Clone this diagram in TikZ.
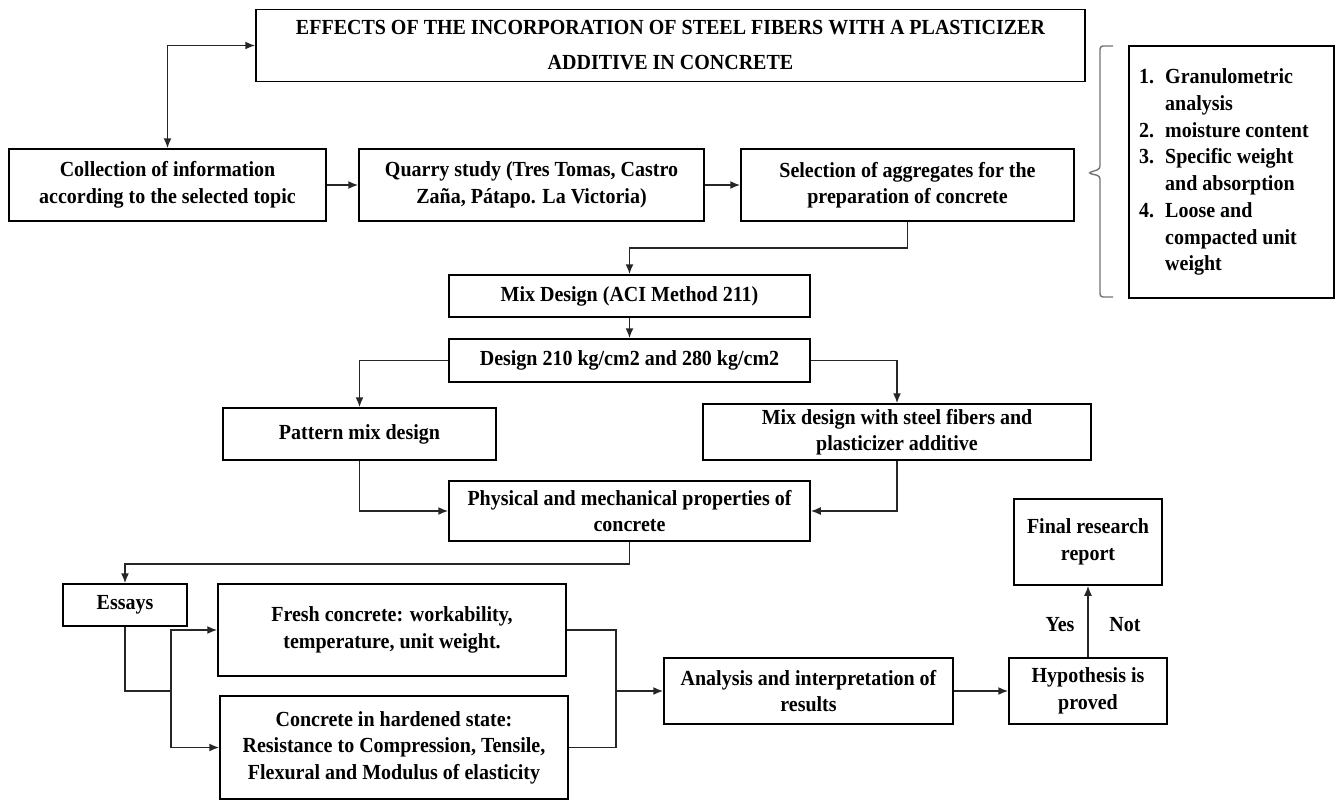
\documentclass[tikz,border=0pt]{standalone}
\usepackage{fontspec}
\setmainfont{Liberation Serif}[FakeStretch=0.93]
\usetikzlibrary{arrows.meta}
\begin{document}
\begin{tikzpicture}[x=1pt,y=-1pt,
  box/.style={draw=black, line width=1.5pt, inner sep=0pt, align=center,
    font=\fontsize{21.5}{26.5}\selectfont\bfseries},
  conn/.style={line width=1.6pt, draw=black!85},
  tip/.tip={Latex[length=10pt,width=8pt]},
  arr/.style={conn, -tip},
  darr/.style={conn, tip-tip},
  lbl/.style={font=\fontsize{21.5}{24}\selectfont\bfseries, inner sep=0pt}]
\useasboundingbox (0,0) rectangle (1337,800);
\fill[white] (0,0) rectangle (1337,800);
% boxes
\node[box, minimum width=829pt, minimum height=72pt, font=\fontsize{21.5}{35}\selectfont\bfseries] (title) at (670.5,45.5)
  {EFFECTS OF THE INCORPORATION OF STEEL FIBERS WITH A PLASTICIZER\\ADDITIVE IN CONCRETE};
\node[box, minimum width=317pt, minimum height=72pt] (coll) at (167.5,185)
  {Collection of information\\according to the selected topic};
\node[box, minimum width=345pt, minimum height=72pt] (quarry) at (531.5,185)
  {Quarry study (Tres Tomas, Castro\\Zaña, Pátapo. La Victoria)};
\node[box, minimum width=333pt, minimum height=72pt] (sel) at (907.5,185)
  {Selection of aggregates for the\\preparation of concrete};
\node[box, minimum width=205pt, minimum height=252pt] (list) at (1231.5,172) {};
\node[anchor=west, inner sep=0pt, font=\fontsize{21.5}{26.7}\selectfont\bfseries] (listtxt) at (1139,172)
  {\begin{tabular}{@{}p{26pt}@{}l@{}}
   1. & Granulometric\\
      & analysis\\
   2. & moisture content\\
   3. & Specific weight\\
      & and absorption\\
   4. & Loose and\\
      & compacted unit\\
      & weight
   \end{tabular}};
\node[box, minimum width=361pt, minimum height=42pt] (mix) at (629.5,296)
  {Mix Design (ACI Method 211)};
\node[box, minimum width=361pt, minimum height=43pt] (d210) at (629.5,360.5)
  {Design 210 kg/cm2 and 280 kg/cm2};
\node[box, minimum width=273pt, minimum height=52pt] (pattern) at (359.5,434)
  {Pattern mix design};
\node[box, minimum width=388pt, minimum height=56pt] (steel) at (897,432)
  {Mix design with steel fibers and\\plasticizer additive};
\node[box, minimum width=361pt, minimum height=60pt] (phys) at (629.5,511)
  {Physical and mechanical properties of\\concrete};
\node[box, minimum width=124pt, minimum height=42pt] (essays) at (125,605)
  {Essays};
\node[box, minimum width=348pt, minimum height=92pt] (fresh) at (392,630)
  {Fresh concrete: workability,\\temperature, unit weight.};
\node[box, minimum width=348pt, minimum height=103pt] (hard) at (394,747.5)
  {Concrete in hardened state:\\Resistance to Compression, Tensile,\\Flexural and Modulus of elasticity};
\node[box, minimum width=289pt, minimum height=66pt] (anal) at (808.5,691)
  {Analysis and interpretation of\\results};
\node[box, minimum width=158pt, minimum height=66pt] (hypo) at (1088,691)
  {Hypothesis is\\proved};
\node[box, minimum width=148pt, minimum height=86pt] (final) at (1088,542)
  {Final research\\report};
\node[lbl] (yes) at (1060,625) {Yes};
\node[lbl] (not) at (1125,625) {Not};
% bracket
\draw[line width=1.4pt, draw=black!55, rounded corners=3pt]
  (1113,46) -- (1100,46) -- (1100,169) -- (1088,173) -- (1100,176) -- (1100,297) -- (1113,297);
% connectors
\draw[darr] (coll.north) |- (title.west);
\draw[arr] (coll.east) -- (quarry.west);
\draw[arr] (quarry.east) -- (sel.west);
\draw[arr] (sel.south) -- ++(0,26) -| (mix.north);
\draw[arr] (mix.south) -- (d210.north);
\draw[arr] (d210.west) -| (pattern.north);
\draw[arr] (d210.east) -| (steel.north);
\draw[arr] (pattern.south) |- (phys.west);
\draw[arr] (steel.south) |- (phys.east);
\draw[arr] (phys.south) -- ++(0,22) -| (essays.north);
\coordinate (j1) at (171,691);
\coordinate (j2) at (616,691);
\draw[conn] (essays.south) |- (j1);
\draw[arr] (j1) |- (fresh.west);
\draw[arr] (j1) |- (hard.west);
\draw[conn] (fresh.east) -| (j2);
\draw[conn] (hard.east) -| (j2);
\draw[arr] (j2) -- (anal.west);
\draw[arr] (anal.east) -- (hypo.west);
\draw[arr] (hypo.north) -- (final.south);
\end{tikzpicture}
\end{document}
